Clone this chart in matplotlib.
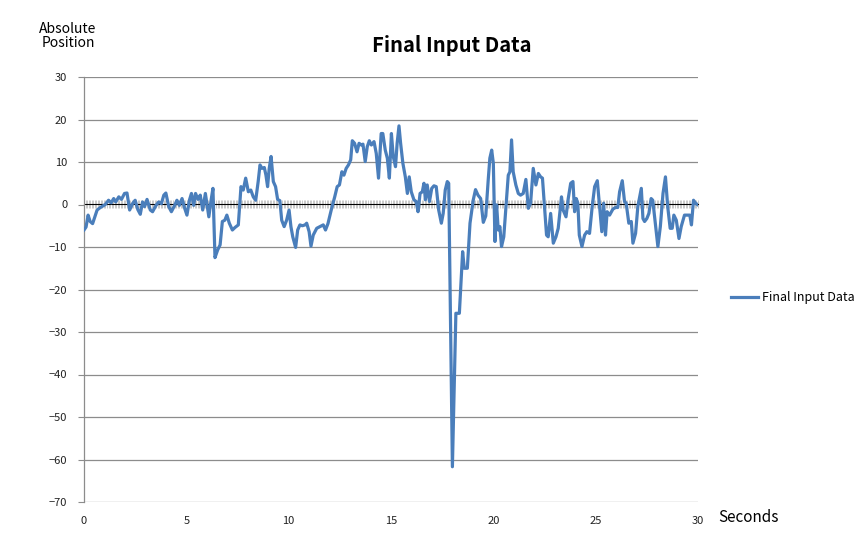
import matplotlib
matplotlib.use("Agg")
import matplotlib.pyplot as plt
import numpy as np

plt.rcParams['font.family'] = ['Noto Sans CJK KR', 'DejaVu Sans']

# time (s) and absolute position values
times = [0.0, 0.1, 0.2, 0.3, 0.42, 0.64, 0.8, 1.04, 1.2, 1.33, 1.45, 1.55, 1.7, 1.83, 1.98, 2.1,
         2.23, 2.37, 2.5, 2.63, 2.75, 2.86, 2.96, 3.08, 3.24, 3.35, 3.52, 3.65, 3.78, 3.9, 4.0,
         4.14, 4.27, 4.43, 4.54, 4.66, 4.79, 4.92, 5.03, 5.15, 5.25, 5.36, 5.45, 5.57, 5.68,
         5.8, 5.93, 6.1, 6.2, 6.3, 6.4, 6.53, 6.65, 6.76, 6.88, 6.98, 7.1, 7.25, 7.38, 7.54,
         7.67, 7.78, 7.9, 8.03, 8.15, 8.27, 8.39, 8.51, 8.6, 8.7, 8.81, 8.89, 8.97, 9.05, 9.14,
         9.25, 9.36, 9.46, 9.57, 9.66, 9.78, 9.9, 10.02, 10.11, 10.2, 10.34, 10.44, 10.55,
         10.67, 10.8, 10.88, 11.0, 11.09, 11.2, 11.37, 11.53, 11.69, 11.8, 11.92, 12.08,
         12.25, 12.37, 12.48, 12.6, 12.7, 12.81, 12.92, 13.03, 13.11, 13.22, 13.34, 13.44,
         13.55, 13.63, 13.74, 13.84, 13.94, 14.04, 14.17, 14.28, 14.39, 14.52, 14.6, 14.72,
         14.82, 14.92, 15.02, 15.11, 15.22, 15.3, 15.39, 15.47, 15.58, 15.7, 15.8, 15.89,
         15.99, 16.12, 16.23, 16.32, 16.42, 16.53, 16.61, 16.68, 16.77, 16.88, 16.99, 17.1,
         17.21, 17.33, 17.46, 17.55, 17.65, 17.75, 17.82, 18.0, 18.17, 18.34, 18.5, 18.58,
         18.73, 18.86, 19.02, 19.13, 19.25, 19.38, 19.51, 19.63, 19.75, 19.83, 19.92, 20.0,
         20.08, 20.16, 20.24, 20.32, 20.4, 20.51, 20.62, 20.73, 20.81, 20.89, 20.97, 21.1,
         21.22, 21.33, 21.46, 21.59, 21.71, 21.82, 21.95, 22.08, 22.2, 22.31, 22.4, 22.52,
         22.6, 22.68, 22.8, 22.93, 23.06, 23.17, 23.33, 23.41, 23.55, 23.66, 23.78, 23.89,
         23.97, 24.05, 24.13, 24.2, 24.33, 24.46, 24.57, 24.7, 24.83, 24.95, 25.08, 25.19,
         25.3, 25.39, 25.48, 25.56, 25.68, 25.84, 25.97, 26.08, 26.17, 26.3, 26.41, 26.49,
         26.62, 26.74, 26.82, 26.95, 27.06, 27.23, 27.31, 27.39, 27.5, 27.6, 27.71, 27.79,
         27.93, 28.04, 28.16, 28.29, 28.41, 28.52, 28.64, 28.74, 28.82, 28.94, 29.07, 29.18,
         29.34, 29.5, 29.6, 29.68, 29.78, 29.88, 30.0]
values = [-6.0, -5.3, -2.5, -4.0, -4.5, -1.3, -0.7, 0.0, 1.0, 0.4, 1.4, 0.6, 1.8, 1.2, 2.6, 2.7,
          -1.3, 0.2, 1.0, -1.2, -2.3, 0.6, -0.5, 1.2, -1.3, -1.7, -0.2, 0.6, 0.2, 2.2, 2.7,
          -0.5, -1.7, -0.2, 1.0, -0.2, 1.4, -0.9, -2.5, 1.0, 2.6, -0.2, 2.6, 1.2, 2.2,
          -1.3, 2.6, -2.9, 0.7, 3.8, -12.5, -10.7, -9.5, -4.0, -3.7, -2.5, -4.4, -6.0, -5.4, -4.8,
          4.2, 3.4, 6.2, 3.0, 3.4, 1.8, 1.0, 5.4, 9.3, 8.5, 8.7, 6.9, 4.2, 8.5, 11.3,
          5.4, 4.2, 1.2, 0.9, -3.7, -5.2, -3.7, -1.3, -5.2, -7.6, -10.1, -6.0, -4.8,
          -5.0, -4.8, -4.4, -6.4, -9.8, -7.2, -5.6, -5.2, -4.8, -6.0, -4.5, -1.3,
          1.8, 4.2, 4.6, 7.7, 6.9, 8.5, 9.3, 10.5, 15.0, 14.4, 12.4, 14.4,
          14.0, 14.2, 10.1, 13.6, 15.0, 14.0, 14.8, 12.0, 6.2, 16.7, 16.7, 12.8,
          10.9, 6.2, 16.7, 11.3, 8.9, 14.4, 18.5, 14.4, 9.7, 6.5, 2.6, 6.5,
          3.0, 1.1, 0.7, -1.7, 2.6, 3.0, 5.0, 1.1, 4.6, 0.7, 3.8, 4.4,
          4.2, -1.3, -4.4, -2.1, 3.4, 5.4, 5.0, -61.7, -25.6, -25.6, -11.1, -15.0,
          -15.0, -4.4, 1.1, 3.5, 2.2, 1.4, -4.2, -2.7, 5.8, 10.9, 12.8, 9.7,
          -8.7, -0.1, -6.0, -5.2, -9.9, -7.6, -0.5, 6.9, 7.7, 15.2, 7.7, 4.6,
          2.6, 2.2, 2.6, 5.9, -0.9, 0.3, 8.5, 4.6, 7.3, 6.5, 6.2, -1.7,
          -7.2, -7.6, -2.1, -9.1, -7.6, -5.6, 1.8, -1.3, -2.9, 1.4, 5.0, 5.4,
          -1.7, 1.4, 0.3, -7.2, -9.9, -7.2, -6.4, -6.8, -0.5, 4.2, 5.6, -0.5,
          -6.4, 0.3, -7.2, -1.7, -2.5, -1.1, -0.7, -0.7, 3.0, 5.6, 0.7, 0.3,
          -4.4, -4.0, -9.1, -6.8, -0.5, 3.8, -3.3, -4.0, -3.3, -2.1, 1.4, 1.0,
          -5.2, -9.9, -5.2, 2.6, 6.5, -0.5, -5.6, -5.6, -2.5, -3.7, -8.0, -5.2,
          -2.5, -2.5, -2.5, -4.8, 1.0, 0.3, -0.1]

x_ticks = [0, 5, 10, 15, 20, 25, 30]
y_ticks = [-70, -60, -50, -40, -30, -20, -10, 0, 10, 20, 30]

fig = plt.figure(figsize=(8.65, 5.5), dpi=100)
ax = fig.add_axes([84 / 865, 48 / 550, 614 / 865, 425 / 550])

grid_c = '#8c8c8c'
for yv in y_ticks:
    if yv != 0:
        ax.axhline(yv, color=grid_c, lw=0.9, zorder=1)

ax.plot(times, values, color='#4a7ebb', lw=2.3, label='Final Input Data', zorder=3,
        solid_joinstyle='round')

ax.set_xlim(0, 30)
ax.set_ylim(-70, 30)
ax.set_yticks(y_ticks)
ax.set_xticks(x_ticks)
ax.set_xticklabels([str(v) for v in x_ticks])

for s in ['top', 'right', 'bottom']:
    ax.spines[s].set_visible(False)
ax.spines['left'].set_color(grid_c)
ax.spines['left'].set_linewidth(0.9)

ax.tick_params(axis='y', length=4, color=grid_c, labelsize=8, pad=8, labelcolor='#222222')
ax.tick_params(axis='x', length=0, labelsize=8, pad=10, labelcolor='#222222')

# category axis crossing at zero with dense tick marks
sec = ax.secondary_xaxis(0.7)
sec.set_xticks(np.arange(0, 30.001, 0.075))
sec.tick_params(axis='x', direction='inout', length=6, width=0.5, color='#b4b4b4',
                labelbottom=False, labeltop=False)
sec.spines['bottom'].set_color('#a8a8a8')
sec.spines['bottom'].set_linewidth(0.9)
sec.set_xticklabels([])

fig.text(452 / 865, 1 - 45 / 550, 'Final Input Data', ha='center', va='center',
         fontsize=14.5, fontweight='bold')
fig.text(68 / 865, 1 - 36 / 550, 'Absolute\nPosition', ha='center', va='center',
         fontsize=10, linespacing=1.0)
fig.text(718 / 865, 1 - 517 / 550, 'Seconds', ha='left', va='center', fontsize=11)

leg = ax.legend(loc='center left', bbox_to_anchor=(1.035, 0.48), frameon=False,
                fontsize=9, handlelength=2.2, handletextpad=0.3)

fig.savefig('out.png', dpi=100)
